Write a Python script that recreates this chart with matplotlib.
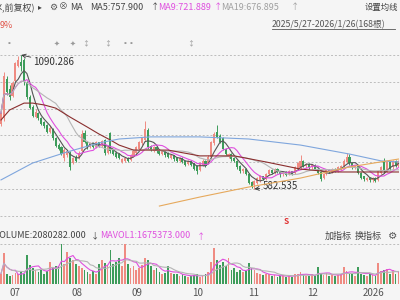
import matplotlib
matplotlib.use("Agg")
import matplotlib.pyplot as plt
import pandas as pd

plt.rcParams['font.family'] = ['Noto Sans CJK SC', 'DejaVu Sans']

# daily candles (visible part), price in yuan
opens = [830, 850, 1000, 960, 935, 990, 1050, 1065, 1070, 985,
         930, 895, 855, 870, 850, 835, 825, 800, 810, 775,
         750, 740, 700, 710, 720, 680, 705, 700, 725, 795,
         760, 740, 755, 740, 760, 745, 770, 720, 795, 730,
         720, 715, 685, 690, 700, 692, 705, 720, 735, 755,
         770, 805, 745, 728, 740, 730, 715, 725, 720, 700,
         710, 700, 688, 700, 690, 678, 690, 680, 670, 655,
         675, 690, 680, 705, 755, 800, 785, 775, 735, 705,
         715, 700, 690, 670, 650, 660, 640, 610, 598, 605,
         615, 630, 620, 640, 655, 645, 660, 650, 638, 648,
         638, 650, 645, 660, 665, 690, 668, 678, 665, 675,
         660, 648, 625, 640, 655, 648, 660, 652, 660, 668,
         685, 705, 680, 662, 670, 645, 630, 618, 625, 615,
         625, 615, 645, 690, 650, 685, 665, 688, 670]
closes = [870, 1010, 950, 930, 985, 1060, 1070, 1050, 990, 930,
          890, 860, 875, 850, 830, 820, 800, 815, 775, 745,
          735, 715, 730, 725, 665, 700, 690, 720, 790, 760,
          740, 755, 740, 760, 745, 765, 720, 740, 725, 715,
          705, 700, 695, 700, 690, 710, 725, 740, 760, 775,
          810, 740, 730, 740, 725, 715, 728, 710, 705, 712,
          695, 688, 700, 685, 675, 690, 675, 660, 650, 680,
          690, 670, 705, 760, 790, 780, 760, 735, 715, 715,
          695, 690, 665, 650, 660, 640, 605, 595, 612, 625,
          630, 620, 640, 655, 645, 660, 648, 640, 648, 635,
          650, 640, 665, 680, 690, 670, 678, 665, 675, 660,
          645, 620, 640, 655, 648, 660, 650, 665, 670, 690,
          705, 680, 665, 672, 645, 625, 620, 625, 615, 625,
          612, 650, 665, 650, 685, 660, 690, 670, 690]
highs = [880, 1025, 1010, 975, 990, 1065, 1085, 1090.286, 1078, 992,
         940, 900, 885, 875, 855, 840, 830, 822, 812, 780,
         755, 745, 738, 732, 725, 705, 710, 725, 805, 805,
         765, 760, 758, 765, 762, 770, 772, 745, 800, 735,
         725, 718, 700, 705, 702, 714, 730, 745, 765, 780,
         840, 815, 750, 745, 742, 733, 732, 728, 722, 716,
         713, 702, 704, 702, 692, 694, 692, 682, 672, 684,
         696, 692, 710, 765, 800, 825, 790, 778, 738, 720,
         718, 703, 692, 673, 664, 662, 642, 612, 615, 628,
         635, 633, 643, 660, 658, 664, 662, 652, 650, 650,
         653, 652, 668, 684, 710, 692, 682, 680, 678, 677,
         662, 650, 642, 658, 657, 663, 662, 668, 673, 695,
         720, 715, 682, 675, 672, 648, 632, 628, 627, 628,
         627, 652, 668, 700, 688, 690, 692, 692, 694]
lows = [820, 840, 940, 920, 930, 985, 1045, 1030, 975, 925,
        885, 855, 850, 845, 826, 815, 795, 796, 770, 740,
        730, 710, 690, 705, 655, 676, 686, 696, 722, 755,
        735, 737, 736, 738, 741, 742, 712, 716, 720, 710,
        700, 696, 680, 686, 686, 688, 702, 716, 731, 750,
        765, 735, 725, 724, 720, 710, 712, 705, 700, 696,
        690, 684, 684, 680, 670, 672, 670, 656, 640, 650,
        670, 665, 676, 700, 750, 775, 755, 730, 710, 700,
        690, 685, 660, 645, 645, 635, 600, 588, 582.535, 600,
        610, 615, 616, 636, 640, 640, 644, 628, 632, 630,
        634, 636, 640, 655, 660, 665, 664, 660, 660, 655,
        640, 612, 620, 636, 644, 645, 646, 648, 656, 664,
        680, 675, 660, 658, 640, 620, 612, 612, 610, 610,
        608, 612, 640, 645, 646, 655, 660, 665, 665]

# long moving averages (candle index, value)
ma_brown_idx = [0, 3, 8, 11, 15, 19, 24, 30, 34, 38, 41, 46, 58, 69, 81, 92, 104, 115, 127, 138]
ma_brown_val = [844, 882, 908, 908, 901, 889, 855, 817, 791, 768, 749, 730, 730, 708, 708, 685, 658, 647, 647, 647]
ma_blue_idx = [0, 11, 23, 34, 41, 52, 69, 86, 104, 121, 132, 138]
ma_blue_val = [617, 681, 723, 757, 772, 780, 780, 772, 749, 715, 689, 685]
ma_orange_idx = [55, 69, 86, 104, 121, 138]
ma_orange_val = [518, 552, 590, 624, 666, 696]

# volume, millions of shares
volumes = [1.3, 3.9, 1.2, 1.0, 1.1, 1.4, 1.2, 1.5, 1.3, 3.6,
           2.4, 2.0, 1.8, 1.5, 1.8, 1.3, 1.6, 2.8, 2.0, 2.3,
           2.2, 5.0, 2.5, 4.0, 3.3, 3.0, 2.5, 2.2, 2.0, 1.8,
           1.5, 1.2, 1.6, 1.3, 2.5, 3.0, 2.6, 2.2, 4.2, 2.5,
           2.8, 3.2, 2.2, 5.0, 2.5, 2.0, 2.2, 1.8, 2.0, 2.4,
           3.2, 3.0, 2.3, 1.8, 2.0, 1.5, 1.3, 1.4, 2.2, 1.4,
           1.2, 1.3, 1.0, 1.2, 1.0, 0.9, 1.0, 1.1, 1.2, 0.9,
           1.0, 1.2, 1.5, 2.8, 4.5, 3.0, 2.4, 2.8, 2.2, 3.2,
           1.8, 2.0, 1.5, 1.8, 1.5, 1.6, 2.6, 2.0, 1.8, 1.4,
           1.2, 1.1, 1.3, 1.2, 1.0, 1.1, 0.9, 1.0, 1.1, 0.9,
           1.0, 0.9, 1.2, 1.3, 1.5, 1.1, 1.0, 1.0, 1.2, 1.0,
           2.1, 1.3, 1.1, 1.4, 1.0, 1.2, 1.0, 1.1, 1.3, 2.1,
           1.6, 1.4, 1.2, 1.0, 2.1, 1.3, 1.1, 1.0, 1.2, 1.1,
           1.0, 2.6, 1.6, 1.8, 1.9, 1.3, 1.7, 1.2, 1.5]

month_labels = ['07', '08', '09', '10', '11', '12', '2026']
month_pos = [4.9, 26.4, 47.2, 68.1, 87.8, 108, 129.5]

price_max = 1090.286
price_min = 582.535

RED = '#ef8b82'
GREEN = '#3d9c5a'
BG = '#f5f5f5'

df = pd.DataFrame({'open': opens, 'close': closes, 'high': highs, 'low': lows, 'vol': volumes})
df['ma5'] = df['close'].rolling(5, min_periods=1).mean()
df['ma9'] = df['close'].rolling(9, min_periods=1).mean()
df['ma19'] = df['close'].rolling(19, min_periods=1).mean()
df['mavol1'] = df['vol'].rolling(5, min_periods=1).mean()
df['mavol2'] = df['vol'].rolling(10, min_periods=1).mean()
up = df['close'] >= df['open']
colors = [RED if u else GREEN for u in up]

fig = plt.figure(figsize=(4, 3), dpi=100, facecolor=BG)
xmin = -1 / 2.88
xmax = xmin + 400 / 2.88

# price panel: pixel rows 0..220
ax = fig.add_axes([0, 80 / 300, 1, 220 / 300])
ax.set_facecolor(BG)
scale = (price_max - price_min) / 134
ax.set_ylim(price_max - 165 * scale, price_max + 55 * scale)
ax.set_xlim(xmin, xmax)
step = (price_max - price_min) / 5
for k in range(7):
    ax.axhline(price_max - k * step, color='#bdbdbd', lw=0.7, ls=(0, (2, 2)), zorder=0)

ax.vlines(df.index, df['low'], df['high'], colors=colors, lw=0.7, zorder=2)
body_bottom = df[['open', 'close']].min(axis=1)
body_height = (df['close'] - df['open']).abs().clip(lower=2)
ax.bar(df.index, body_height, bottom=body_bottom, width=0.72, color=colors, lw=0, zorder=3)

ax.plot(df.index, df['ma5'], color='#555555', lw=0.8, zorder=4)
ax.plot(df.index, df['ma9'], color='#df4fdf', lw=0.8, zorder=4)
ax.plot(df.index, df['ma19'], color='#b5b5b5', lw=0.8, zorder=4)
ax.plot(ma_brown_idx, ma_brown_val, color='#8a2e2e', lw=0.8, zorder=4)
ax.plot(ma_blue_idx, ma_blue_val, color='#7fa6dd', lw=0.8, zorder=4)
ax.plot(ma_orange_idx, ma_orange_val, color='#e6a95c', lw=0.8, zorder=4)

ax.annotate('1090.286', xy=(7, price_max), xytext=(11.3, 1062), fontsize=7, color='#333333',
            va='center', arrowprops=dict(arrowstyle='->', lw=0.6, color='#333333', shrinkA=0, shrinkB=0))
ax.annotate('582.535', xy=(88, price_min), xytext=(90.8, 594), fontsize=7, color='#333333',
            va='center', arrowprops=dict(arrowstyle='->', lw=0.6, color='#333333', shrinkA=0, shrinkB=0))
ax.axis('off')

# volume panel: pixel rows 244..284
axv = fig.add_axes([0, 16 / 300, 1, 40 / 300])
axv.set_facecolor(BG)
axv.set_xlim(xmin, xmax)
axv.set_ylim(0, 5.0)
axv.axhline(5.0, color='#bdbdbd', lw=0.7, ls=(0, (2, 2)), zorder=0, clip_on=False)
axv.bar(df.index, df['vol'], width=0.6, color=colors, lw=0, zorder=2)
axv.plot(df.index, df['mavol1'], color='#df4fdf', lw=0.8, zorder=3)
axv.plot(df.index, df['mavol2'], color='#b5b5b5', lw=0.8, zorder=3)
axv.axis('off')
for lab, pos in zip(month_labels, month_pos):
    axv.text(pos, -0.5, lab, ha='center', va='top', fontsize=7, color='#555555')


def px(x, y, s, **kw):
    fig.text(x / 400, 1 - y / 300, s, va='center', **kw)


# header row
px(-6, 7, '乄,前复权)', fontsize=6.5, color='#444444')
px(38, 7, '▸', fontsize=5.5, color='#444444')
px(49, 7, '⚙', fontsize=6.5, color='#555555')
px(59, 7, '⊗', fontsize=6.5, color='#555555')
px(70, 7, 'MA', fontsize=6.5, color='#444444')
px(90, 7, 'MA5:757.900', fontsize=6.5, color='#444444')
px(151, 7, '↑', fontsize=6, color='#444444')
px(158, 7, 'MA9:721.889', fontsize=6.5, color='#df4fdf')
px(214, 7, '↑', fontsize=6, color='#df4fdf')
px(221, 7, 'MA19:676.895', fontsize=6.5, color='#a0a0a0')
px(291, 7, '↑', fontsize=6, color='#a0a0a0')
px(365, 7, '设置均线', fontsize=6, color='#444444')
px(0, 25, '9%', fontsize=6.5, color='#e0554a')
px(272, 25, '2025/5/27-2026/1/26(168根)', fontsize=6.3, color='#555555')
fig.add_artist(plt.Line2D([272 / 400, 395 / 400], [1 - 29 / 300, 1 - 29 / 300], color='#555555', lw=0.6))

# event markers
for mx, sym in [(8, '▪'), (57, '✦'), (73, '✦'), (85, '↕'), (107, '↕'), (124, '▪'), (130, '▪'), (190, '↕')]:
    px(mx - 3, 44, sym, fontsize=5, color='#999999')
px(284, 222, 'S', fontsize=6, color='#e03030', fontweight='bold')

# volume header
px(-5, 236, 'VOLUME:2080282.000', fontsize=6.5, color='#444444')
px(91, 236, '↓', fontsize=6, color='#444444')
px(100, 236, 'MAVOL1:1675373.000', fontsize=6.5, color='#df4fdf')
px(197, 236, '↑', fontsize=6, color='#df4fdf')
px(325, 236, '加指标', fontsize=6.5, color='#444444')
px(355, 236, '换指标', fontsize=6.5, color='#444444')
px(388, 236, '⚙', fontsize=7.5, color='#555555')

fig.savefig('out.png', dpi=100, facecolor=BG)
